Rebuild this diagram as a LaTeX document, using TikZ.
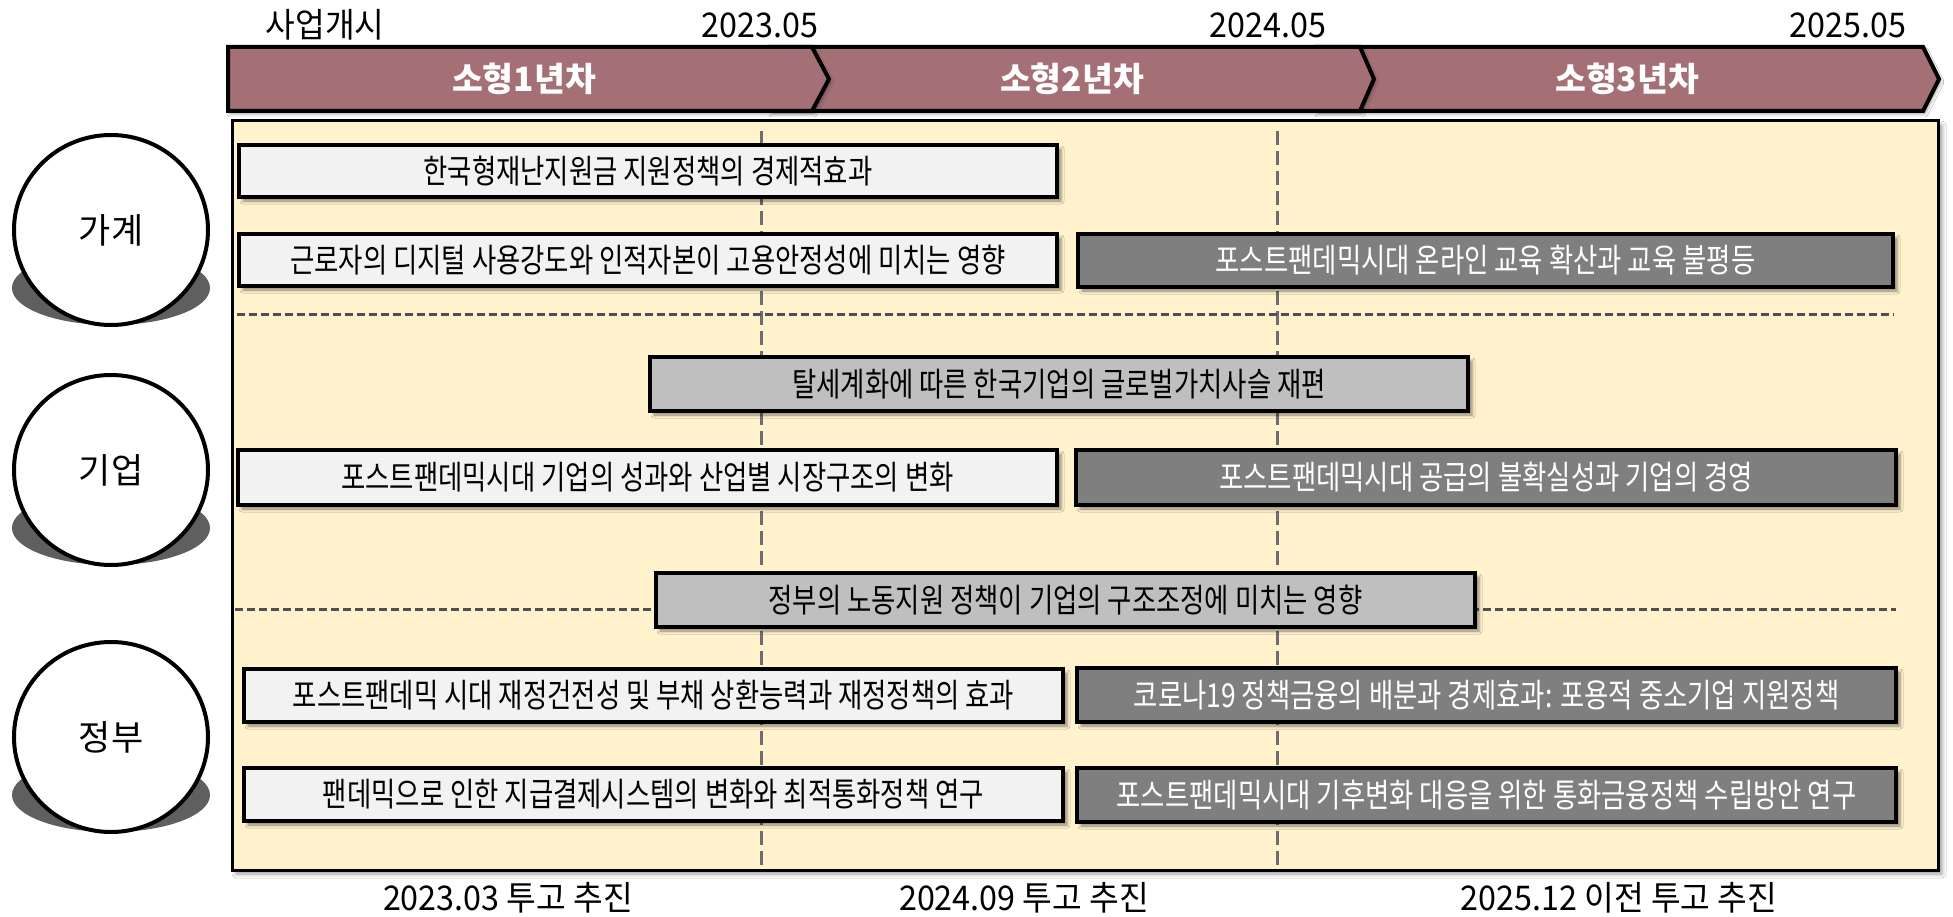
\documentclass[tikz,border=0pt]{standalone}
\usepackage{fontspec}
\setmainfont{Noto Sans CJK KR}
\newfontfamily\boxfont[FakeStretch=0.8]{Noto Sans CJK KR}
\newfontfamily\labfont[FakeStretch=0.95]{Noto Sans CJK KR}
\usetikzlibrary{shadows.blur,shapes.geometric}
\definecolor{rose}{HTML}{A57075}
\definecolor{cream}{HTML}{FFF2CC}
\definecolor{lgray}{HTML}{F2F2F2}
\definecolor{mgray}{HTML}{BFBFBF}
\definecolor{dgray}{HTML}{7F7F7F}
\definecolor{shgray}{HTML}{5F5F5F}
\definecolor{vdashc}{HTML}{6E6E6E}
\definecolor{hdashc}{HTML}{505050}
\tikzset{
  hdr/.style={fill=rose, draw=black, line width=4pt, line join=miter,
    blur shadow={shadow xshift=2pt, shadow yshift=-3pt, shadow blur radius=3pt, shadow opacity=35}},
  htext/.style={text=white, font=\bfseries\fontsize{33.5}{35}\selectfont, inner sep=0pt},
  lab/.style={text=black, font=\labfont\fontsize{34}{36}\selectfont, inner sep=0pt},
  panel/.style={fill=cream, draw=black, line width=3pt,
    blur shadow={shadow xshift=4pt, shadow yshift=-4pt, shadow blur radius=4pt, shadow opacity=40}},
  rbox/.style={draw=black, line width=4pt, inner sep=0pt, outer sep=0pt, align=center,
    font=\boxfont\fontsize{33}{35}\selectfont,
    blur shadow={shadow xshift=4pt, shadow yshift=-4pt, shadow blur radius=3pt, shadow opacity=45}},
  lbox/.style={rbox, fill=lgray, text=black},
  mbox/.style={rbox, fill=mgray, text=black},
  dbox/.style={rbox, fill=dgray, text=white},
  circ/.style={ellipse, draw=black, line width=4pt, fill=white, inner sep=0pt,
    minimum width=194pt, minimum height=190pt, font=\fontsize{35}{37}\selectfont},
  vdash/.style={draw=vdashc, line width=3pt, dash pattern=on 14pt off 6pt},
  hdash/.style={draw=hdashc, line width=3pt, dash pattern=on 8pt off 4pt},
}
\begin{document}
\begin{tikzpicture}[x=1pt,y=-1pt]
\useasboundingbox (0,0) rectangle (1953,917);
\fill[white] (0,0) rectangle (1953,917);
% header chevrons
\draw[hdr] (1316,47) -- (1923,47) -- (1939,79) -- (1923,111) -- (1316,111) -- cycle;
\draw[hdr] (770,47) -- (1360,47) -- (1374,79) -- (1360,111) -- (770,111) -- cycle;
\draw[hdr] (228,47) -- (812,47) -- (829,79) -- (812,111) -- (228,111) -- cycle;
\node[htext] (y1) at (524,79) {소형1년차};
\node[htext] (y2) at (1072,79) {소형2년차};
\node[htext] (y3) at (1627,79) {소형3년차};
% top labels
\node[lab] (t0) at (325,25) {사업개시};
\node[lab] (t1) at (760,25) {2023.05};
\node[lab] (t2) at (1268,25) {2024.05};
\node[lab] (t3) at (1848,25) {2025.05};
% panel
\draw[panel] (232,121) rectangle (1938,870);
\draw[vdash] (761,131) -- (761,868);
\draw[vdash] (1277,131) -- (1277,868);
\draw[hdash] (237,314) -- (1894,314);
\draw[hdash] (235,609) -- (1896,609);
% circles
\fill[shgray] (111,288) ellipse [x radius=99, y radius=37];
\node[circ] (hh) at (111,230) {가계};
\fill[shgray] (111,528) ellipse [x radius=99, y radius=37];
\node[circ] (firm) at (111,470) {기업};
\fill[shgray] (111,795) ellipse [x radius=99, y radius=37];
\node[circ] (gov) at (111,737) {정부};
% boxes
\node[lbox, minimum width=818pt, minimum height=52pt] (b1) at (648,171) {한국형재난지원금 지원정책의 경제적효과};
\node[lbox, minimum width=818pt, minimum height=52pt] (b2l) at (648,260) {근로자의 디지털 사용강도와 인적자본이 고용안정성에 미치는 영향};
\node[dbox, minimum width=815pt, minimum height=53pt] (b2r) at (1485.5,260.5) {포스트팬데믹시대 온라인 교육 확산과 교육 불평등};
\node[mbox, minimum width=818pt, minimum height=54pt] (b3) at (1059,384) {탈세계화에 따른 한국기업의 글로벌가치사슬 재편};
\node[lbox, minimum width=819pt, minimum height=55pt] (b4l) at (647.5,477.5) {포스트팬데믹시대 기업의 성과와 산업별 시장구조의 변화};
\node[dbox, minimum width=820pt, minimum height=55pt] (b4r) at (1486,477.5) {포스트팬데믹시대 공급의 불확실성과 기업의 경영};
\node[mbox, minimum width=819pt, minimum height=54pt] (b5) at (1065.5,600) {정부의 노동지원 정책이 기업의 구조조정에 미치는 영향};
\node[lbox, minimum width=819pt, minimum height=53pt] (b6l) at (653.5,695.5) {포스트팬데믹 시대 재정건전성 및 부채 상환능력과 재정정책의 효과};
\node[dbox, minimum width=819pt, minimum height=54pt] (b6r) at (1486.5,695) {코로나19 정책금융의 배분과 경제효과: 포용적 중소기업 지원정책};
\node[lbox, minimum width=819pt, minimum height=53pt] (b7l) at (653.5,794.5) {팬데믹으로 인한 지급결제시스템의 변화와 최적통화정책 연구};
\node[dbox, minimum width=819pt, minimum height=54pt] (b7r) at (1486.5,795) {포스트팬데믹시대 기후변화 대응을 위한 통화금융정책 수립방안 연구};
% bottom labels
\node[lab] (s1) at (508,898) {2023.03 투고 추진};
\node[lab] (s2) at (1024,898) {2024.09 투고 추진};
\node[lab] (s3) at (1619,898) {2025.12 이전 투고 추진};
\end{tikzpicture}
\end{document}
